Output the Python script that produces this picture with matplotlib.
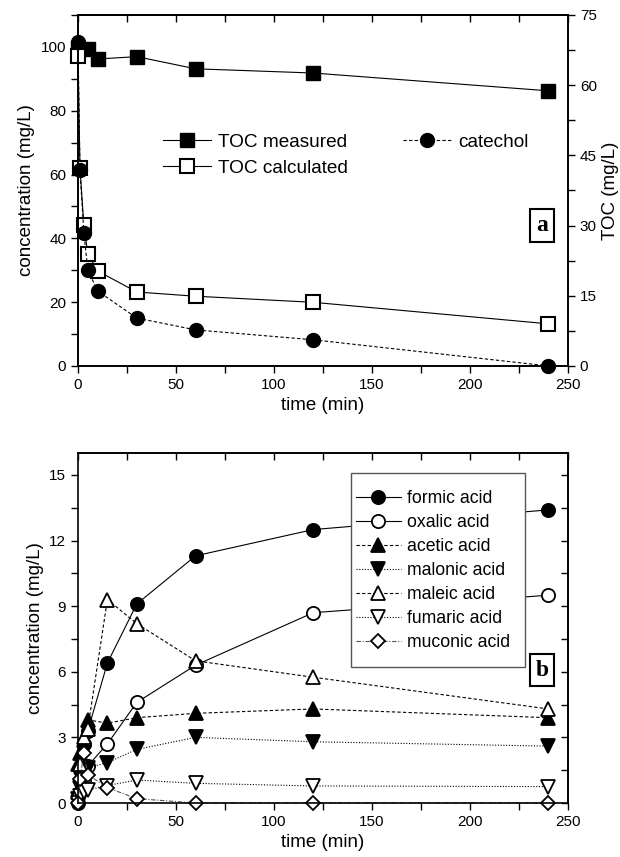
import numpy as np
import matplotlib.pyplot as plt
from matplotlib.ticker import MultipleLocator
from matplotlib.patches import Rectangle

plt.rcParams['font.family'] = ['Liberation Sans', 'DejaVu Sans']

# --- panel a data ---
t_meas = [0, 5, 10, 30, 60, 120, 240]
toc_measured = [68.0, 67.8, 65.6, 66.1, 63.5, 62.6, 58.8]      # TOC axis
t_calc = [0, 1, 3, 5, 10, 30, 60, 120, 240]
toc_calculated = [66.3, 42.3, 30.1, 23.9, 20.3, 15.8, 14.9, 13.6, 9.0]  # TOC axis
t_cat = [0, 1, 3, 5, 10, 30, 60, 120, 240]
catechol = [101.6, 61.5, 41.7, 30.1, 23.5, 15.0, 11.3, 8.2, 0.0]

# --- panel b data ---
t_acid = [0, 1, 3, 5, 15, 30, 60, 120, 240]
formic = [0.0, 1.5, 2.7, 3.3, 6.4, 9.1, 11.3, 12.5, 13.4]
oxalic = [0.3, 0.5, 1.0, 1.7, 2.7, 4.6, 6.3, 8.7, 9.5]
acetic = [1.8, 2.3, 2.9, 3.8, 3.65, 3.9, 4.1, 4.3, 3.9]
malonic = [0.2, 0.7, 1.2, 1.6, 1.85, 2.45, 3.0, 2.8, 2.6]
maleic = [0.5, 1.8, 3.0, 3.4, 9.3, 8.2, 6.5, 5.75, 4.3]
fumaric = [0.0, 0.3, 0.5, 0.6, 0.8, 1.05, 0.9, 0.78, 0.75]
muconic = [0.0, 1.1, 2.3, 1.3, 0.7, 0.2, 0.0, 0.0, 0.0]

fig = plt.figure(figsize=(6.2, 8.57), dpi=100)
ax1 = fig.add_axes([0.1258, 0.573, 0.7903, 0.4095])
ax2 = fig.add_axes([0.1258, 0.063, 0.7903, 0.4084])

lw = 0.8
ms = 9.5
tick_fs = 11
label_fs = 13.5

def style_axes(ax):
    ax.set_xlim(0, 250)
    ax.xaxis.set_major_locator(MultipleLocator(50))
    ax.xaxis.set_minor_locator(MultipleLocator(25))
    ax.tick_params(axis='both', which='major', direction='out', length=5, width=1,
                   labelsize=tick_fs, top=False)
    ax.tick_params(axis='both', which='minor', direction='out', length=5, width=1)
    for s in ax.spines.values():
        s.set_linewidth(1.2)
    # inward ticks on top spine
    sec = ax.secondary_xaxis('top')
    sec.xaxis.set_major_locator(MultipleLocator(25))
    sec.tick_params(direction='in', length=5, width=1, labeltop=False)
    sec.spines['top'].set_linewidth(1.2)
    ax.set_xlabel('time (min)', fontsize=label_fs)
    ax.set_ylabel('concentration (mg/L)', fontsize=label_fs)

# ---------- panel a ----------
style_axes(ax1)
ax1.set_ylim(0, 110)
ax1.yaxis.set_major_locator(MultipleLocator(20))
ax1.yaxis.set_minor_locator(MultipleLocator(10))

ax1r = ax1.twinx()
ax1r.set_ylim(0, 75)
ax1r.yaxis.set_major_locator(MultipleLocator(15))
ax1r.yaxis.set_minor_locator(MultipleLocator(7.5))
ax1r.tick_params(which='both', direction='out', length=5, width=1, labelsize=tick_fs)
ax1r.set_ylabel('TOC (mg/L)', fontsize=label_fs)
for s in ax1r.spines.values():
    s.set_linewidth(1.2)

h1, = ax1r.plot(t_meas, toc_measured, '-', color='black', lw=lw, marker='s', ms=ms,
                mfc='black', mec='black', clip_on=False, label='TOC measured')
h2, = ax1r.plot(t_calc, toc_calculated, '-', color='black', lw=lw, marker='s', ms=ms,
                mfc='white', mec='black', mew=1.5, clip_on=False, label='TOC calculated')
h3, = ax1.plot(t_cat, catechol, '--', color='black', lw=lw, marker='o', ms=ms + 0.5,
               mfc='black', mec='black', clip_on=False, label='catechol',
               dashes=(3, 2))
ax1.set_zorder(ax1r.get_zorder() + 1)
ax1.patch.set_visible(False)

ax1.legend(handles=[h1, h2, h3], ncol=2, frameon=False, fontsize=13.7,
           loc='upper left', bbox_to_anchor=(0.158, 0.684), borderaxespad=0,
           handlelength=2.5, handletextpad=0.4, columnspacing=2.9, labelspacing=0.45)
ax1.text(0.947, 0.40, 'a', transform=ax1.transAxes, ha='center', va='center',
         fontsize=17, fontweight='bold', family='Liberation Serif',
         bbox=dict(boxstyle='square,pad=0.25', fc='white', ec='black', lw=1.5))

# ---------- panel b ----------
style_axes(ax2)
ax2.set_ylim(0, 16)
ax2.yaxis.set_major_locator(MultipleLocator(3))
ax2.yaxis.set_minor_locator(MultipleLocator(1.5))
secy = ax2.secondary_yaxis('right')
secy.yaxis.set_major_locator(MultipleLocator(1.5))
secy.tick_params(direction='in', length=5, width=1, labelright=False)
secy.spines['right'].set_linewidth(1.2)
ax2.tick_params(axis='y', which='both', right=False)

series = [
    (formic, 'formic acid', 'o', 'black', '-', None),
    (oxalic, 'oxalic acid', 'o', 'white', '-', None),
    (acetic, 'acetic acid', '^', 'black', '--', (3, 2)),
    (malonic, 'malonic acid', 'v', 'black', ':', (1, 1.5)),
    (maleic, 'maleic acid', '^', 'white', '--', (3, 2)),
    (fumaric, 'fumaric acid', 'v', 'white', ':', (1, 1.5)),
    (muconic, 'muconic acid', 'D', 'white', '-.', (4, 1.5, 1, 1.5)),
]
for vals, lab, mk, fc, ls, dsh in series:
    kw = dict(dashes=dsh) if dsh else {}
    ax2.plot(t_acid, vals, linestyle=ls, color='black' if ls != '-.' else '#555555',
             lw=lw, marker=mk, ms=ms if mk != 'D' else ms - 2, mfc=fc,
             mec='black', mew=1.3, clip_on=False, label=lab, **kw)

# legend frame drawn separately (tall box, narrow side padding)
ax2.add_patch(Rectangle((0.557, 0.389), 0.355, 0.554, transform=ax2.transAxes,
                        fc='white', ec='#555555', lw=1.0, zorder=4))
leg = ax2.legend(loc='upper left', bbox_to_anchor=(0.567, 0.895), borderaxespad=0,
                 fontsize=12.7, frameon=False, borderpad=0,
                 handlelength=2.55, handletextpad=0.35, labelspacing=0.4)
leg.set_zorder(5)
ax2.text(0.947, 0.38, 'b', transform=ax2.transAxes, ha='center', va='center',
         fontsize=17, fontweight='bold', family='Liberation Serif', zorder=6,
         bbox=dict(boxstyle='square,pad=0.25', fc='white', ec='black', lw=1.5))

plt.savefig('out.png', dpi=100)
